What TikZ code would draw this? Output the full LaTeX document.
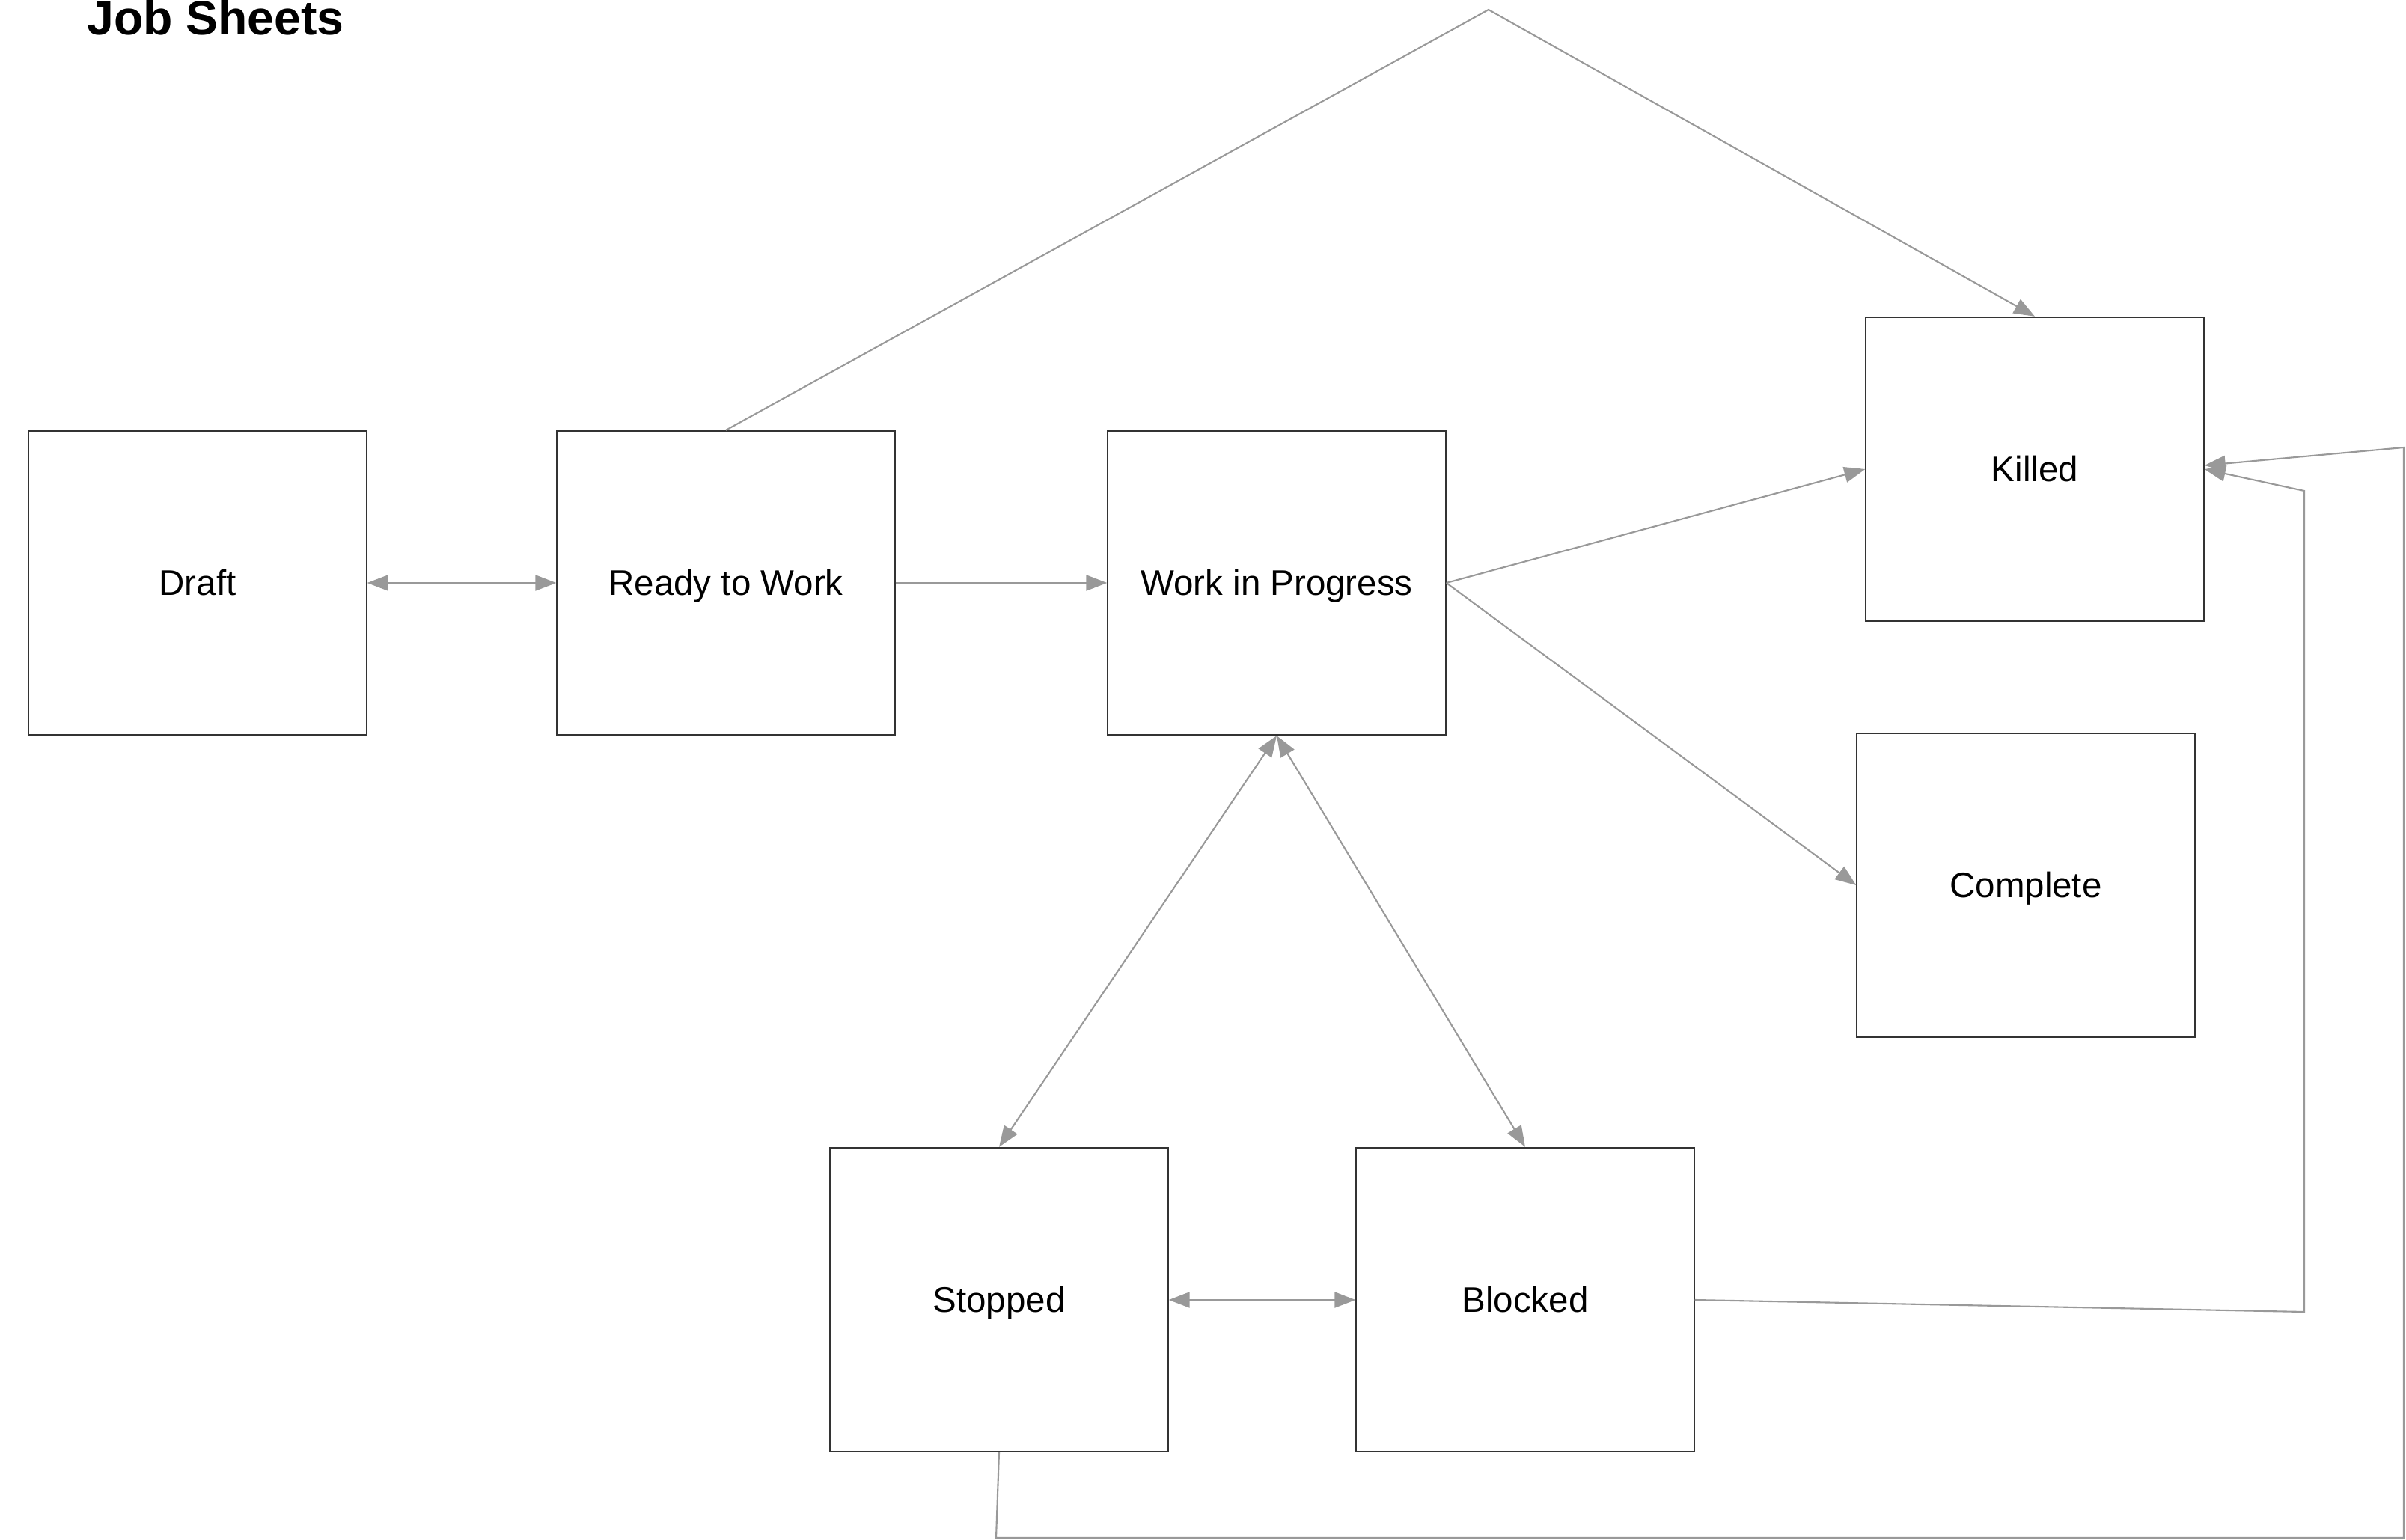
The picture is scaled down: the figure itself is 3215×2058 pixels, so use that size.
\documentclass[tikz,border=0pt]{standalone}
\usepackage{fontspec}
\setmainfont{Liberation Sans}
\usetikzlibrary{arrows.meta}

\tikzset{
  state/.style={draw=black!80, line width=0.6pt, minimum width=4.51cm, minimum height=4.06cm,
    inner sep=0pt, text height=1.05em, text depth=0.1em, font=\fontsize{13.5}{16}\selectfont},
  link/.style={draw=black!40, line width=0.6pt, -{Triangle[length=0.28cm,width=0.21cm]}},
  twoway/.style={draw=black!40, line width=0.6pt,
    {Triangle[length=0.28cm,width=0.21cm]}-{Triangle[length=0.28cm,width=0.21cm]}},
}

\begin{document}
\begin{tikzpicture}[x=0.01cm,y=-0.01cm]
   \useasboundingbox (0,0) rectangle (3215,2058);

   \node[anchor=base west, font=\fontsize{18.3}{22}\selectfont\bfseries] (title) at (104,47) {Job Sheets};

   \node[state] (draft)    at (264,779)   {Draft};
   \node[state] (ready)    at (970,779)   {Ready to Work};
   \node[state] (wip)      at (1706,779)  {Work in Progress};
   \node[state] (killed)   at (2719,627)  {Killed};
   \node[state] (complete) at (2707,1183) {Complete};
   \node[state] (stopped)  at (1335,1737) {Stopped};
   \node[state] (blocked)  at (2038,1737) {Blocked};

   % bends of the long lines
   \coordinate (top)    at (1989,13);
   \coordinate (inner1) at (3079,1753);
   \coordinate (inner2) at (3079,656);
   \coordinate (outer1) at (1331,2055);
   \coordinate (outer2) at (3212,2055);
   \coordinate (outer3) at (3212,598);

   \path (draft) edge[twoway] (ready);
   \path (ready) edge[link] (wip);
   \path (wip.east) edge[link] (killed.west);
   \path (wip.east) edge[link] (complete.west);
   \path (wip.south) edge[twoway] (stopped.north);
   \path (wip.south) edge[twoway] (blocked.north);
   \path (stopped) edge[twoway] (blocked);

   \draw[link] (ready.north) -- (top) -- (killed.north);
   \draw[link] (blocked.east) -- (inner1) -- (inner2) -- (killed.east);
   \draw[link] (stopped.south) -- (outer1) -- (outer2) -- (outer3) -- ([yshift=0.05cm]killed.east);
\end{tikzpicture}
\end{document}
